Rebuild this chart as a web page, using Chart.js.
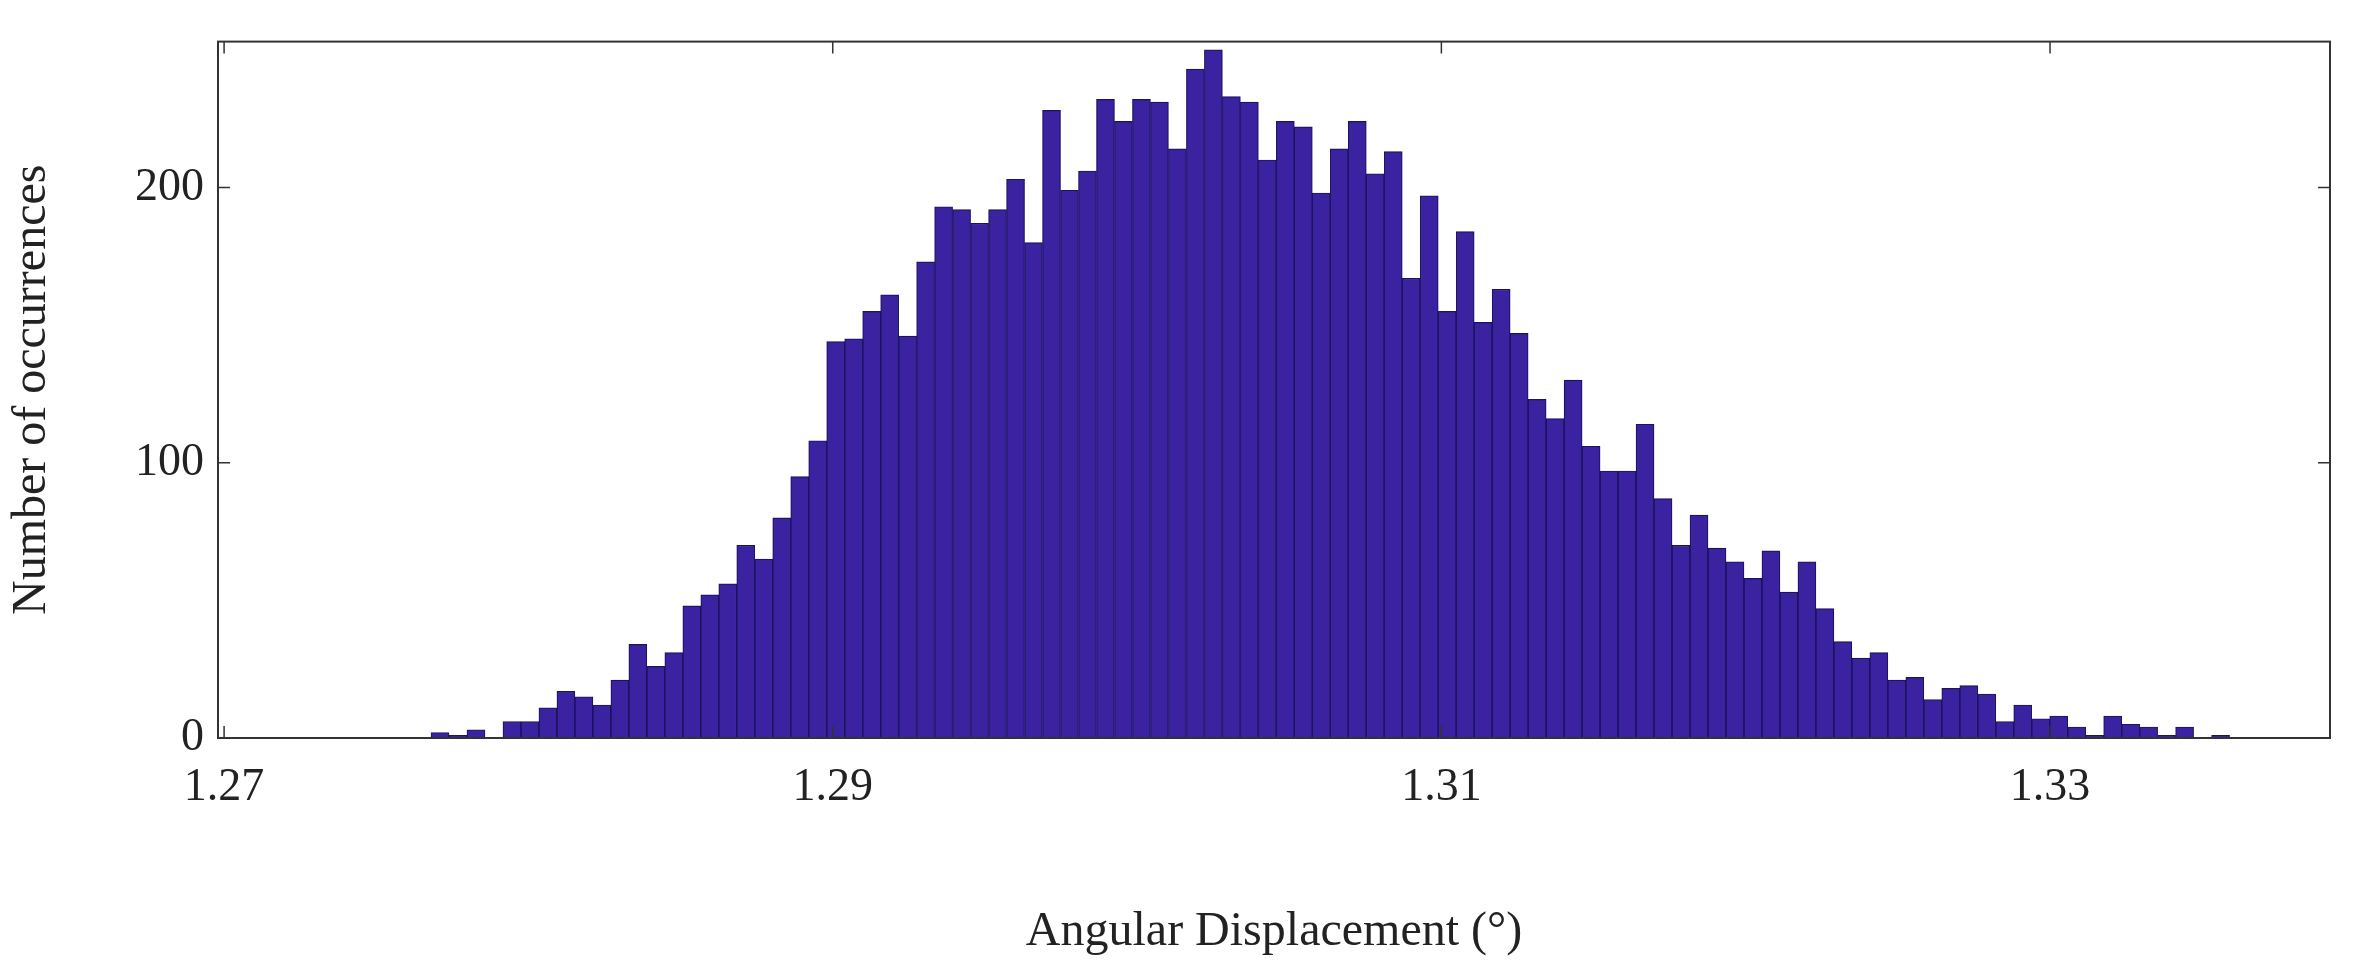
<!DOCTYPE html>
<html>
<head>
<meta charset="utf-8">
<script src="https://cdn.jsdelivr.net/npm/chart.js@4.4.0/dist/chart.umd.min.js"></script>
<style>
  html, body { margin: 0; padding: 0; background: #fff; }
  #wrap { width: 2353px; height: 965px; }
</style>
</head>
<body>
<div id="wrap"><canvas id="hist"></canvas></div>
<script>
// histogram counts, 100 bins
const counts = [
  2, 1, 3, 0, 6, 6, 11, 17, 15, 12,
  21, 34, 26, 31, 48, 52, 56, 70, 65, 80,
  95, 108, 144, 145, 155, 161, 146, 173, 193, 192,
  187, 192, 203, 180, 228, 199, 206, 232, 224, 232,
  231, 214, 243, 250, 233, 231, 210, 224, 222, 198,
  214, 224, 205, 213, 167, 197, 155, 184, 151, 163,
  147, 123, 116, 130, 106, 97, 97, 114, 87, 70,
  81, 69, 64, 58, 68, 53, 64, 47, 35, 29,
  31, 21, 22, 14, 18, 19, 16, 6, 12, 7,
  8, 4, 1, 8, 5, 4, 1, 4, 0, 1
];
const binStart = 1.2768;
const binWidth = 0.000591;
const xTicks = [1.27, 1.29, 1.31, 1.33];
const yTicks = [0, 100, 200];

const points = counts.map((c, i) => ({ x: binStart + (i + 0.5) * binWidth, y: c }));

// frame around the plot plus small inward tick marks (matlab style)
const framePlugin = {
  id: 'frame',
  afterDraw(chart) {
    const { ctx, chartArea: a, scales } = chart;
    ctx.save();
    ctx.strokeStyle = '#333';
    ctx.lineWidth = 2;
    ctx.strokeRect(a.left, a.top, a.right - a.left, a.bottom - a.top);
    ctx.lineWidth = 1.5;
    xTicks.forEach(v => {
      const px = scales.x.getPixelForValue(v);
      ctx.beginPath();
      ctx.moveTo(px, a.bottom); ctx.lineTo(px, a.bottom - 12);
      ctx.moveTo(px, a.top); ctx.lineTo(px, a.top + 12);
      ctx.stroke();
    });
    yTicks.forEach(v => {
      const py = scales.y.getPixelForValue(v);
      ctx.beginPath();
      ctx.moveTo(a.left, py); ctx.lineTo(a.left + 12, py);
      ctx.moveTo(a.right, py); ctx.lineTo(a.right - 12, py);
      ctx.stroke();
    });
    ctx.restore();
  }
};

const serif = '"Liberation Serif", "DejaVu Serif", serif';

new Chart(document.getElementById('hist'), {
  type: 'bar',
  data: {
    datasets: [{
      data: points,
      backgroundColor: '#3a22a0',
      borderColor: '#1d1460',
      borderWidth: 1.2,
      barPercentage: 1,
      categoryPercentage: 1
    }]
  },
  options: {
    responsive: true,
    maintainAspectRatio: false,
    animation: false,
    layout: { padding: { top: 18, right: 23, left: 0, bottom: 0 } },
    plugins: { legend: { display: false }, tooltip: { enabled: false } },
    scales: {
      x: {
        type: 'linear',
        min: 1.2698,
        max: 1.3392,
        offset: false,
        grid: { display: false, drawTicks: false },
        border: { display: false },
        afterBuildTicks: s => { s.ticks = xTicks.map(v => ({ value: v })); },
        afterFit: s => { s.height = 227; },
        ticks: {
          color: '#222',
          font: { family: serif, size: 46 },
          padding: 22,
          maxRotation: 0,
          callback: v => v.toFixed(2)
        },
        title: {
          display: true,
          text: 'Angular Displacement (°)',
          color: '#222',
          font: { family: serif, size: 48 },
          padding: { top: 50 }
        }
      },
      y: {
        min: 0,
        max: 253,
        grid: { display: false, drawTicks: false },
        border: { display: false },
        afterBuildTicks: s => { s.ticks = yTicks.map(v => ({ value: v })); },
        afterFit: s => { s.width = 218; },
        ticks: {
          color: '#222',
          font: { family: serif, size: 46 },
          padding: 14
        },
        title: {
          display: true,
          text: 'Number of occurrences',
          color: '#222',
          font: { family: serif, size: 48 },
          padding: { bottom: 0 }
        }
      }
    }
  },
  plugins: [framePlugin]
});
</script>
</body>
</html>
